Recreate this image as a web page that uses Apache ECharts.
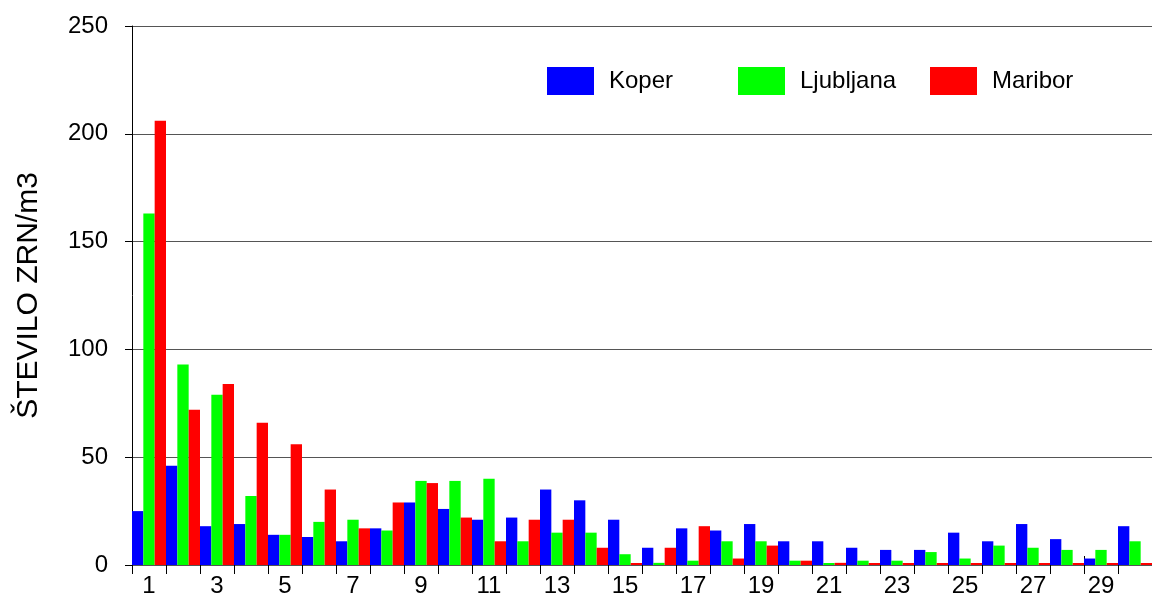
<!DOCTYPE html>
<html>
<head>
<meta charset="utf-8">
<script src="https://cdn.jsdelivr.net/npm/echarts@6/dist/echarts.min.js"></script>
<style>
  html, body { margin: 0; padding: 0; background: #fff; }
  #chart { width: 1152px; height: 598px; }
</style>
</head>
<body>
<div id="chart"></div>
<script>
// days 1..30
const days = ['1','2','3','4','5','6','7','8','9','10','11','12','13','14','15',
  '16','17','18','19','20','21','22','23','24','25','26','27','28','29','30']
// stevilo zrn/m3 po mestih
const koper = [25, 46, 18, 19, 14, 13, 11, 17, 29, 26, 21, 22, 35, 30, 21,
  8, 17, 16, 19, 11, 11, 8, 7, 7, 15, 11, 19, 12, 3, 18]
const ljubljana = [163, 93, 79, 32, 14, 20, 21, 16, 39, 39, 40, 11, 15, 15, 5,
  1, 2, 11, 11, 2, 0, 2, 2, 6, 3, 9, 8, 7, 7, 11]
const maribor = [206, 72, 84, 66, 56, 35, 17, 29, 38, 22, 11, 21, 21, 8, 0,
  8, 18, 3, 9, 2, 1, 0, 0, 0, 0, 0, 0, 0, 0, 0]
const yTicks = [0, 50, 100, 150, 200, 250]

const font = 'Liberation Sans, Arial, sans-serif'
const colors = ['#0000ff', '#00ff00', '#ff0000']
const names = ['Koper', 'Ljubljana', 'Maribor']
const legendLeft = [547, 738, 930]

const chart = echarts.init(document.getElementById('chart'))

const option = {
  animation: false,
  color: colors,
  textStyle: { fontFamily: font },
  grid: { left: 132, right: -13, top: 26, bottom: 30, containLabel: false },
  legend: names.map((n, i) => ({
    data: [n],
    left: legendLeft[i],
    top: 67,
    itemWidth: 47,
    itemHeight: 28,
    icon: 'rect',
    padding: 0,
    textStyle: { fontFamily: font, fontSize: 24, color: '#000', padding: [0, 0, 0, 10] }
  })),
  xAxis: [
    {
      type: 'category',
      data: days,
      axisLine: { show: true, lineStyle: { color: '#555', width: 1 } },
      axisTick: { show: true, length: 9, interval: 0, lineStyle: { color: '#000' } },
      axisLabel: { interval: 1, fontSize: 24, color: '#000', margin: 9, fontFamily: font },
      splitLine: { show: false }
    },
    {
      type: 'category',
      data: days,
      position: 'bottom',
      axisLine: { show: false },
      axisTick: { show: true, inside: true, length: 9, interval: 0, lineStyle: { color: '#000' } },
      axisLabel: { show: false },
      splitLine: { show: false }
    }
  ],
  yAxis: {
    type: 'value',
    min: yTicks[0],
    max: yTicks[yTicks.length - 1],
    interval: 50,
    name: 'ŠTEVILO ZRN/m3',
    nameLocation: 'middle',
    nameGap: 88,
    nameTextStyle: { fontSize: 30, color: '#000', fontFamily: font },
    axisLine: { show: true, lineStyle: { color: '#000', width: 1 } },
    axisTick: { show: true, length: 7, lineStyle: { color: '#000' } },
    axisLabel: { fontSize: 24, color: '#000', margin: 24, fontFamily: font },
    splitLine: { show: true, lineStyle: { color: '#555', width: 1 } }
  },
  series: [
    { name: 'Koper', type: 'bar', data: koper, barGap: '0%', barCategoryGap: '0%', barMinHeight: 2 },
    { name: 'Ljubljana', type: 'bar', data: ljubljana, barGap: '0%', barCategoryGap: '0%', barMinHeight: 2 },
    { name: 'Maribor', type: 'bar', data: maribor, barGap: '0%', barCategoryGap: '0%', barMinHeight: 2 }
  ]
}

chart.setOption(option)
</script>
</body>
</html>
